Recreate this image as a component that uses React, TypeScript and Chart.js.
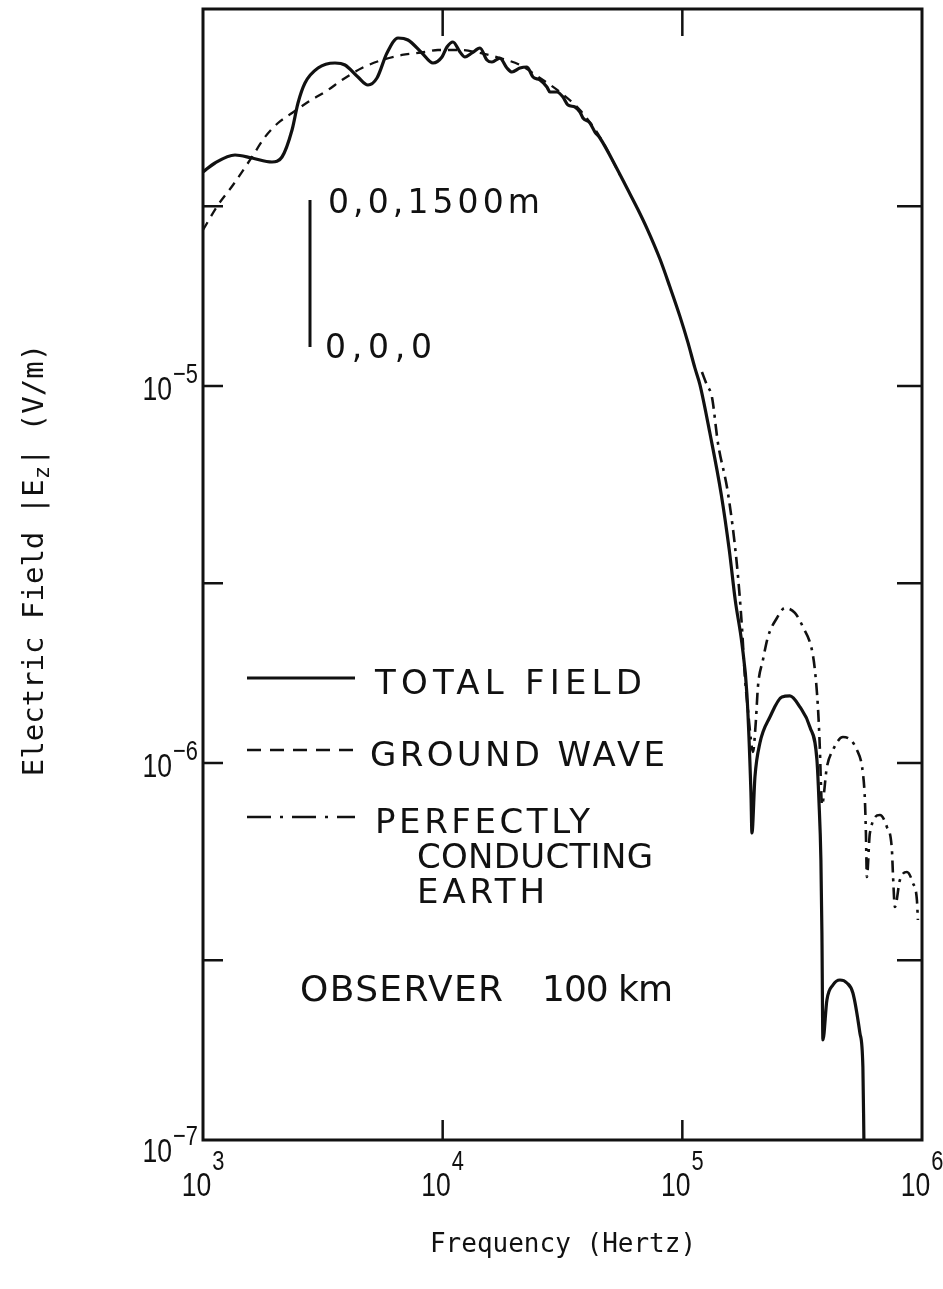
import React, { useEffect, useRef } from "react";
import { Chart, registerables } from "chart.js";

Chart.register(...registerables);

// ---------- data (frequency in Hz, |Ez| in V/m) ----------
const totalFieldFreq = [
  1000, 1122, 1360, 1601, 1940, 2136, 2352, 2491, 2664, 3019, 3554, 3912, 4432, 4880, 5320, 5856,
  6509, 7164, 8196, 9109, 9934, 10420, 11040, 11810, 12390, 13250, 14310, 15300, 16060, 17330,
  18540, 19460, 21010, 22480, 23810, 25460, 27230, 28030, 29990, 31760, 33330, 35640, 37400,
  38490, 41160, 43190, 45310, 53360, 58730, 65280, 71170, 80650, 88780, 97720, 105500,
  112900, 118400, 130300, 145400, 157000, 166300, 177300, 186000, 193300, 195200, 200900,
  210700, 232000, 260300, 281100, 309400, 340600, 364400, 371400, 378600, 382300, 386000,
  401100, 424900, 454500, 486100, 514900, 550700, 566700, 572300, 575000,
];
const totalFieldValue = [
  3.695e-5, 3.904e-5, 4.099e-5, 4.025e-5, 3.928e-5, 4.05e-5, 4.775e-5, 5.632e-5, 6.364e-5,
  6.974e-5, 7.191e-5, 7.104e-5, 6.601e-5, 6.286e-5, 6.561e-5, 7.644e-5, 8.377e-5, 8.275e-5,
  7.644e-5, 7.191e-5, 7.459e-5, 7.929e-5, 8.175e-5, 7.69e-5, 7.459e-5, 7.644e-5, 7.881e-5,
  7.323e-5, 7.234e-5, 7.412e-5, 6.974e-5, 6.806e-5, 6.974e-5, 7.017e-5, 6.601e-5, 6.482e-5,
  6.21e-5, 6.023e-5, 6.023e-5, 5.842e-5, 5.564e-5, 5.496e-5, 5.331e-5, 5.139e-5, 4.984e-5,
  4.718e-5, 4.548e-5, 3.77e-5, 3.35e-5, 2.94e-5, 2.62e-5, 2.172e-5, 1.83e-5, 1.53e-5,
  1.305e-5, 1.115e-5, 1.009e-5, 7.504e-6, 5.15e-6, 3.67e-6, 2.70e-6, 2.07e-6, 1.52e-6,
  8.325e-7, 6.521e-7, 9.182e-7, 1.13e-6, 1.324e-6, 1.497e-6, 1.506e-6, 1.408e-6,
  1.246e-6, 1.019e-6, 7.978e-7, 5.53e-7, 3.541e-7, 1.842e-7, 2.352e-7, 2.577e-7, 2.657e-7,
  2.609e-7, 2.454e-7, 1.922e-7, 1.562e-7, 1.0e-7, 8e-8,
];

const groundWaveFreq = [
  1000, 1155, 1334, 1601, 1814, 2056, 2352, 2741, 3323, 3801, 4605, 5582, 6764, 8437, 9558,
  11810, 14310, 17330, 21010, 25460, 30860, 37400, 45310, 54920,
];
const groundWaveValue = [
  2.593e-5, 3.021e-5, 3.413e-5, 4.05e-5, 4.576e-5, 4.984e-5, 5.298e-5, 5.666e-5, 6.097e-5,
  6.482e-5, 6.974e-5, 7.323e-5, 7.551e-5, 7.69e-5, 7.784e-5, 7.784e-5, 7.644e-5, 7.412e-5,
  7.104e-5, 6.561e-5, 6.023e-5, 5.396e-5, 4.576e-5, 3.628e-5,
];

const perfectEarthFreq = [
  120700, 126600, 132900, 140800, 155000, 169000, 177300, 182400, 187800, 193300, 197000,
  202800, 206700, 216900, 227600, 248100, 267900, 295000, 318500, 347300, 357400, 367900,
  375000, 378600, 382300, 401100, 424900, 467700, 535100, 566700, 577800, 583400, 588900,
  606200, 667400, 713800, 749000, 756100, 770900, 808700, 865000, 916300, 952200, 961400,
];
const perfectEarthValue = [
  1.089e-5, 1.006e-5, 9.35e-6, 7.06e-6, 5.202e-6, 3.351e-6, 2.295e-6, 1.691e-6, 1.383e-6,
  1.151e-6, 1.07e-6, 1.3e-6, 1.591e-6, 1.876e-6, 2.159e-6, 2.425e-6, 2.577e-6, 2.5e-6,
  2.295e-6, 1.994e-6, 1.765e-6, 1.408e-6, 1.083e-6, 8.849e-7, 7.737e-7, 9.759e-7, 1.083e-6,
  1.172e-6, 1.083e-6, 9.408e-7, 7.978e-7, 6.521e-7, 4.984e-7, 6.521e-7, 7.279e-7, 6.764e-7,
  5.877e-7, 5.107e-7, 4.15e-7, 4.894e-7, 5.139e-7, 4.805e-7, 4.331e-7, 3.833e-7,
];

const xTickValues = [1e3, 1e4, 1e5, 1e6];
const xTickExponents = ["3", "4", "5", "6"];
const yTickValues = [1e-5, 1e-6, 1e-7];
const yTickExponents = ["\u22125", "\u22126", "\u22127"];
const xMarkValues = [1e4, 1e5];
const yMarkValues = [3e-5, 1e-5, 3e-6, 1e-6, 3e-7];

const seriesLabels = ["TOTAL FIELD", "GROUND WAVE", "PERFECTLY CONDUCTING EARTH"];
const xTitle = "Frequency (Hertz)";
const yTitleParts = ["Electric Field |E", "z", "| (V/m)"];
const heightLabels = ["0,0,1500m", "0,0,0"];
const observerLabel = ["OBSERVER", "100 km"];

const INK = "#111";
const DASHED = [9, 7];
const DASHDOT = [12, 6, 3, 6];

function spacedText(ctx: CanvasRenderingContext2D, text: string, x: number, y: number, width: number, font: string) {
  ctx.font = font;
  (ctx as any).letterSpacing = "0px";
  const w = ctx.measureText(text).width;
  const n = Math.max(text.length - 1, 1);
  const sp = (width - w) / n;
  (ctx as any).letterSpacing = sp.toFixed(2) + "px";
  ctx.textAlign = "left";
  ctx.textBaseline = "alphabetic";
  ctx.fillText(text, x, y);
  (ctx as any).letterSpacing = "0px";
}

function drawPower(
  ctx: CanvasRenderingContext2D,
  base: string,
  exp: string,
  x: number,
  baseY: number,
  expY: number,
  align: "center" | "right"
) {
  const sx = 0.78;
  const fb = '34px "Liberation Sans"';
  const fe = '28px "Liberation Sans"';
  ctx.font = fb;
  const wb = ctx.measureText(base).width * sx;
  ctx.font = fe;
  const we = ctx.measureText(exp).width * sx;
  const total = wb + we + 1;
  const x0 = align === "center" ? x - total / 2 : x - total;
  ctx.textAlign = "left";
  ctx.textBaseline = "alphabetic";
  ctx.save();
  ctx.translate(x0, baseY);
  ctx.scale(sx, 1);
  ctx.font = fb;
  ctx.fillText(base, 0, 0);
  ctx.restore();
  ctx.save();
  ctx.translate(x0 + wb + 1, expY);
  ctx.scale(sx, 1);
  ctx.font = fe;
  ctx.fillText(exp, 0, 0);
  ctx.restore();
}

const framePlugin = {
  id: "frameAndNotes",
  afterDraw(chart: any) {
    const { ctx, chartArea } = chart;
    const { left, right, top, bottom } = chartArea;
    const xs = chart.scales.x;
    const ys = chart.scales.y;
    ctx.save();
    ctx.strokeStyle = INK;
    ctx.fillStyle = INK;
    ctx.lineCap = "butt";
    ctx.setLineDash([]);

    // frame
    ctx.lineWidth = 3;
    ctx.strokeRect(left, top, right - left, bottom - top);

    // inward tick marks
    ctx.lineWidth = 2.5;
    ctx.beginPath();
    for (const v of yMarkValues) {
      const py = ys.getPixelForValue(v);
      ctx.moveTo(left, py);
      ctx.lineTo(left + 20, py);
      ctx.moveTo(right, py);
      ctx.lineTo(right - 25, py);
    }
    for (const v of xMarkValues) {
      const px = xs.getPixelForValue(v);
      ctx.moveTo(px, top);
      ctx.lineTo(px, top + 27);
      ctx.moveTo(px, bottom);
      ctx.lineTo(px, bottom - 20);
    }
    ctx.stroke();

    // tick labels
    xTickValues.forEach((v, i) => {
      const px = xs.getPixelForValue(v);
      drawPower(ctx, "10", xTickExponents[i], px, bottom + 56, bottom + 30, "center");
    });
    yTickValues.forEach((v, i) => {
      const py = ys.getPixelForValue(v);
      const shift = i === yTickValues.length - 1 ? 8 : 0;
      drawPower(ctx, "10", yTickExponents[i], left - 5, py + 14 + shift, py - 3 + shift, "right");
    });

    // axis titles
    const mono = '26px "DejaVu Sans Mono"';
    ctx.font = mono;
    ctx.textAlign = "center";
    ctx.textBaseline = "alphabetic";
    ctx.fillText(xTitle, 563, 1252);

    ctx.save();
    const monoY = '29px "DejaVu Sans Mono"';
    const subY = '22px "DejaVu Sans Mono"';
    ctx.font = monoY;
    const w1 = ctx.measureText(yTitleParts[0]).width;
    const w3 = ctx.measureText(yTitleParts[2]).width;
    ctx.font = subY;
    const w2 = ctx.measureText(yTitleParts[1]).width;
    const total = w1 + w2 + w3;
    ctx.translate(43, 560 + total / 2);
    ctx.rotate(-Math.PI / 2);
    ctx.textAlign = "left";
    ctx.font = monoY;
    ctx.fillText(yTitleParts[0], 0, 0);
    ctx.font = subY;
    ctx.fillText(yTitleParts[1], w1, 6);
    ctx.font = monoY;
    ctx.fillText(yTitleParts[2], w1 + w2, 0);
    ctx.restore();

    // height annotation
    ctx.lineWidth = 3;
    ctx.beginPath();
    ctx.moveTo(310, 200);
    ctx.lineTo(310, 347);
    ctx.stroke();
    const lab = '33px "DejaVu Sans"';
    spacedText(ctx, heightLabels[0], 328, 213, 212, lab);
    spacedText(ctx, heightLabels[1], 325, 358, 107, lab);

    // legend
    const f34 = '34px "DejaVu Sans"';
    ctx.lineWidth = 3;
    ctx.beginPath();
    ctx.moveTo(247, 678);
    ctx.lineTo(355, 678);
    ctx.stroke();
    ctx.lineWidth = 2.5;
    ctx.setLineDash([14, 9]);
    ctx.beginPath();
    ctx.moveTo(247, 750);
    ctx.lineTo(355, 750);
    ctx.stroke();
    ctx.setLineDash([24, 9, 3, 9]);
    ctx.beginPath();
    ctx.moveTo(247, 817);
    ctx.lineTo(355, 817);
    ctx.stroke();
    ctx.setLineDash([]);

    spacedText(ctx, seriesLabels[0], 375, 694, 267, f34);
    spacedText(ctx, seriesLabels[1], 370, 766, 295, f34);
    spacedText(ctx, "PERFECTLY", 375, 833, 215, f34);
    spacedText(ctx, "CONDUCTING", 417, 868, 236, f34);
    spacedText(ctx, "EARTH", 417, 903, 128, f34);

    const f36 = '36px "DejaVu Sans"';
    spacedText(ctx, observerLabel[0], 300, 1001, 203, f36);
    spacedText(ctx, observerLabel[1], 542, 1001, 131, f36);

    ctx.restore();
  },
};

function toPoints(xs: number[], ys: number[]) {
  return xs.map((x, i) => ({ x, y: ys[i] }));
}

export default function App() {
  const ref = useRef<HTMLCanvasElement>(null);
  useEffect(() => {
    const canvas = ref.current;
    if (!canvas) return;
    const chart = new Chart(canvas, {
      type: "line",
      data: {
        datasets: [
          {
            label: seriesLabels[1],
            data: toPoints(groundWaveFreq, groundWaveValue),
            borderColor: INK,
            borderWidth: 2.3,
            borderDash: DASHED,
            pointRadius: 0,
            cubicInterpolationMode: "monotone",
          },
          {
            label: seriesLabels[2],
            data: toPoints(perfectEarthFreq, perfectEarthValue),
            borderColor: INK,
            borderWidth: 2.6,
            borderDash: DASHDOT,
            pointRadius: 0,
            cubicInterpolationMode: "monotone",
          },
          {
            label: seriesLabels[0],
            data: toPoints(totalFieldFreq, totalFieldValue),
            borderColor: INK,
            borderWidth: 3.2,
            pointRadius: 0,
            cubicInterpolationMode: "monotone",
          },
        ],
      },
      options: {
        responsive: false,
        animation: false,
        devicePixelRatio: 1,
        layout: { padding: { left: 203, top: 9, right: 21, bottom: 149 } },
        plugins: { legend: { display: false }, tooltip: { enabled: false } },
        scales: {
          x: { type: "logarithmic", min: 1e3, max: 1e6, display: false },
          y: { type: "logarithmic", min: 1e-7, max: 1e-4, display: false },
        },
      },
      plugins: [framePlugin],
    } as any);
    return () => chart.destroy();
  }, []);
  return (
    <div style={{ position: "absolute", left: 0, top: 0, width: 943, height: 1289, background: "#fff" }}>
      <canvas ref={ref} width={943} height={1289} style={{ display: "block" }} />
    </div>
  );
}
